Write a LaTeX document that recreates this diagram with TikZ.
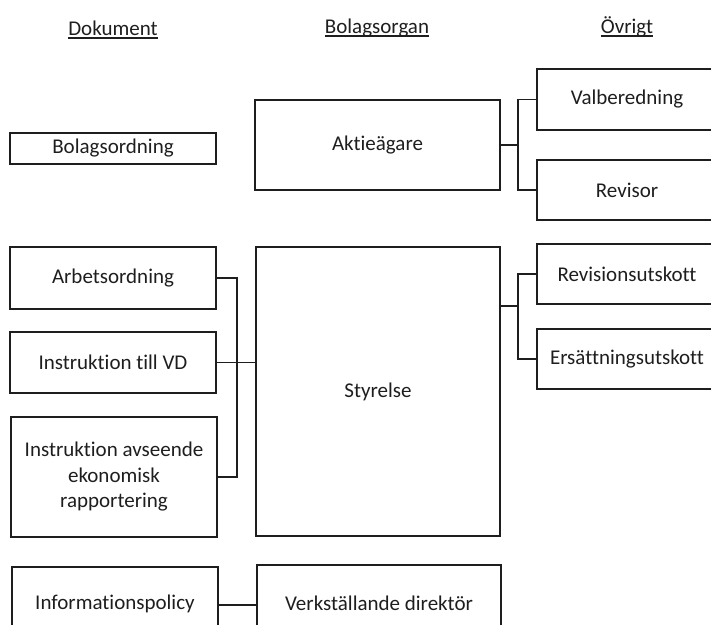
\documentclass[tikz,border=0pt]{standalone}
\usepackage{fontspec}
\setmainfont{Carlito}[Ligatures={NoCommon}]
\usepackage{tikz}
\usetikzlibrary{positioning}
\definecolor{ink}{HTML}{1E1E1E}
\newcommand{\headline}[1]{\setbox0\hbox{#1}\rlap{\color{ink}\rule[-3.5pt]{\wd0}{1.1pt}}\box0}
\tikzset{
    x=1pt, y=-1pt, % pixel grid of the scan, y runs downwards
    every node/.style={font=\fontsize{21}{25.5}\selectfont, text=ink}, % sets the text of every node
    orgbox/.style={draw=ink, line width=1.2pt, align=center, inner sep=0pt}, % the boxes
    heading/.style={anchor=base}, % the column titles
    link/.style={draw=ink, line width=1.5pt}, % the connecting lines
}

\begin{document}
\begin{tikzpicture}
    \useasboundingbox (0,0) rectangle (711,624);
    \clip (0,0) rectangle (711,624);
    % column titles
    \node[heading] (hdok) at (113,35) {\headline{Dokument}};
    \node[heading] (horg) at (377,33) {\headline{Bolagsorgan}};
    \node[heading] (hovr) at (627,33) {\headline{Övrigt}};
    % Dokument
    \node[orgbox, minimum width=206, minimum height=31] (bolagsordning) at (113,148.5) {Bolagsordning};
    \node[orgbox, minimum width=206, minimum height=62] (arbetsordning) at (113,278) {Arbetsordning};
    \node[orgbox, minimum width=206, minimum height=61] (instrvd) at (113,362.5) {Instruktion till VD};
    \node[orgbox, minimum width=206, minimum height=120] (instrekon) at (114,477) {Instruktion avseende\\ekonomisk\\rapportering};
    \node[orgbox, minimum width=206, minimum height=74] (infopolicy) at (115,604) {Informationspolicy};
    % Bolagsorgan
    \node[orgbox, minimum width=245, minimum height=90] (aktieagare) at (377.5,145) {Aktieägare};
    \node[orgbox, minimum width=244, minimum height=289] (styrelse) at (378,391.5) {Styrelse};
    \node[orgbox, minimum width=244, minimum height=76] (vd) at (379,603) {Verkställande direktör};
    % Övrigt
    \node[orgbox, minimum width=180, minimum height=61] (valberedning) at (627,99.5) {Valberedning};
    \node[orgbox, minimum width=180, minimum height=60] (revisor) at (627,190) {Revisor};
    \node[orgbox, minimum width=180, minimum height=60] (revutskott) at (627,274) {Revisionsutskott};
    \node[orgbox, minimum width=180, minimum height=60] (ersutskott) at (627,359) {Ersättningsutskott};
    % joints
    \coordinate (jakt) at (518,145);
    \coordinate (jdok) at (237,362.5);
    \coordinate (jsty) at (518,306);
    % lines
    \path[link]
    (aktieagare.east) -- (jakt)
    (valberedning.west) -| (jakt) |- (revisor.west)
    (arbetsordning.east) -| (jdok) |- (instrekon.east)
    (instrvd.east) -- (instrvd.east -| styrelse.west)
    (styrelse.east |- jsty) -- (jsty)
    (revutskott.west) -| (jsty) |- (ersutskott.west)
    (infopolicy.east |- 0,605) -- (vd.west |- 0,605);
\end{tikzpicture}
\end{document}
